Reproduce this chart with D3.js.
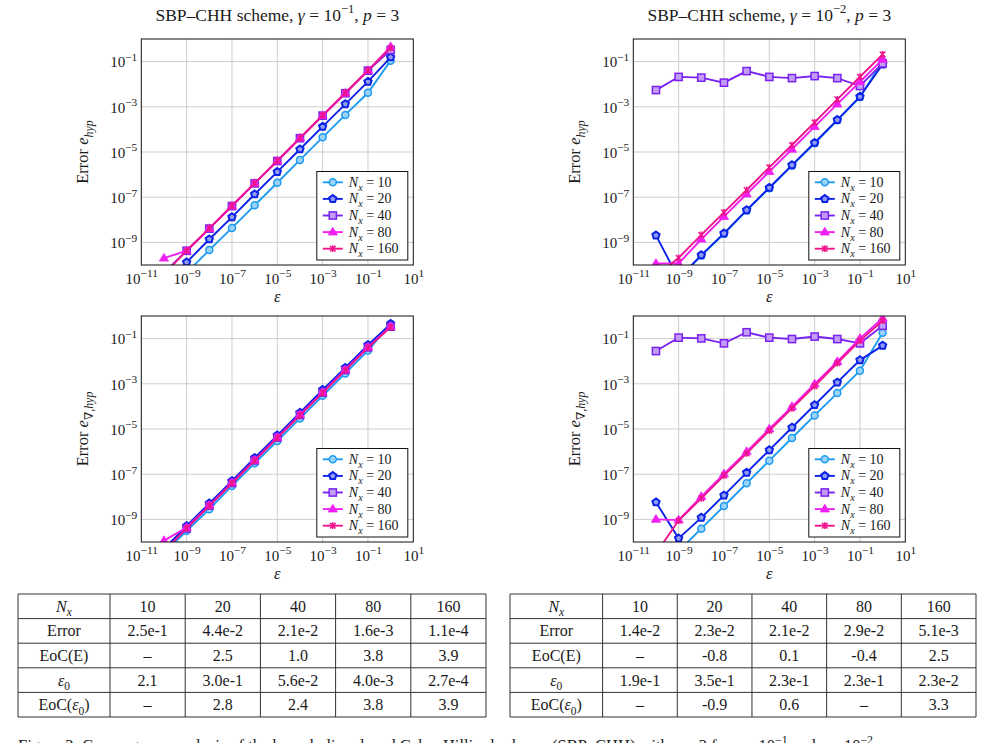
<!DOCTYPE html>
<html><head><meta charset="utf-8">
<script src="https://cdn.jsdelivr.net/npm/d3@7"></script>
<style>
body{margin:0;background:#fff}
svg{display:block}
text{font-family:"Liberation Serif","DejaVu Serif",serif;fill:#1a1a1a}
</style>
</head><body>
<svg id="c" width="984" height="743"></svg>
<script>
// ---------------- DATA ----------------
const epsilon = [1e-10,1e-9,1e-8,1e-7,1e-6,1e-5,1e-4,1e-3,1e-2,1e-1,1];
const NxLabels = ["10","20","40","80","160"];
const xTickExp = [-11,-9,-7,-5,-3,-1,1];
const yTickExp = [-9,-7,-5,-3,-1];
const gammaExp = ["−1","−2"];

// e_hyp, gamma = 1e-1
const hypG1_Nx10  = [5.0e-12,4.57e-11,4.57e-10,4.37e-9,4.37e-8,4.37e-7,4.47e-6,4.47e-5,4.37e-4,4.17e-3,1.10e-1];
const hypG1_Nx20  = [1.26e-11,1.32e-10,1.38e-9,1.32e-8,1.35e-7,1.32e-6,1.32e-5,1.32e-4,1.32e-3,1.29e-2,1.55e-1];
const hypG1_Nx40  = [4.47e-11,4.27e-10,4.07e-9,4.07e-8,4.07e-7,3.98e-6,4.07e-5,4.07e-4,3.98e-3,3.98e-2,3.24e-1];
const hypG1_Nx80  = [2.0e-10,4.27e-10,4.07e-9,4.07e-8,4.07e-7,3.98e-6,4.07e-5,4.07e-4,3.98e-3,3.98e-2,4.57e-1];
const hypG1_Nx160 = [3.98e-11,4.27e-10,4.17e-9,4.17e-8,4.17e-7,4.07e-6,4.17e-5,4.17e-4,4.07e-3,4.07e-2,3.98e-1];
// e_hyp, gamma = 1e-2
const hypG2_Nx10  = [1.0e-11,2.40e-11,2.63e-10,2.40e-9,2.57e-8,2.51e-7,2.51e-6,2.45e-5,2.51e-4,2.69e-3,1.07e-1];
const hypG2_Nx20  = [2.04e-9,2.51e-11,2.75e-10,2.51e-9,2.69e-8,2.63e-7,2.63e-6,2.57e-5,2.63e-4,2.82e-3,7.59e-2];
const hypG2_Nx40  = [5.5e-3,2.1e-2,1.95e-2,1.17e-2,3.8e-2,2.1e-2,1.86e-2,2.29e-2,1.86e-2,8.3e-3,8.3e-2];
const hypG2_Nx80  = [1.17e-10,1.17e-10,1.38e-9,1.38e-8,1.38e-7,1.35e-6,1.32e-5,1.32e-4,1.32e-3,1.29e-2,1.26e-1];
const hypG2_Nx160 = [3.16e-11,2.09e-10,2.14e-9,2.14e-8,2.09e-7,2.09e-6,2.04e-5,2.04e-4,2.14e-3,2.14e-2,2.09e-1];
// e_grad, gamma = 1e-1
const gradG1_Nx10  = [3.16e-11,3.16e-10,2.82e-9,3.02e-8,3.02e-7,2.95e-6,2.95e-5,2.95e-4,2.88e-3,2.95e-2,4.47e-1];
const gradG1_Nx20  = [5.01e-11,5.13e-10,5.13e-9,5.01e-8,5.25e-7,5.25e-6,5.25e-5,5.37e-4,5.13e-3,5.25e-2,4.47e-1];
const gradG1_Nx40  = [3.98e-11,3.98e-10,4.07e-9,4.07e-8,4.07e-7,4.17e-6,4.17e-5,4.07e-4,4.07e-3,4.07e-2,3.39e-1];
const gradG1_Nx80  = [1.15e-10,4.37e-10,4.17e-9,4.17e-8,4.17e-7,4.27e-6,4.27e-5,4.17e-4,4.17e-3,4.17e-2,3.39e-1];
const gradG1_Nx160 = [3.98e-11,3.98e-10,3.98e-9,3.98e-8,3.98e-7,3.98e-6,3.98e-5,3.98e-4,3.98e-3,3.98e-2,3.24e-1];
// e_grad, gamma = 1e-2
const gradG2_Nx10  = [3.98e-12,3.98e-11,3.89e-10,3.89e-9,3.98e-8,3.98e-7,3.98e-6,3.98e-5,3.89e-4,3.80e-3,1.82e-1];
const gradG2_Nx20  = [5.75e-9,1.45e-10,1.20e-9,1.15e-8,1.17e-7,1.17e-6,1.17e-5,1.15e-4,1.15e-3,1.12e-2,4.90e-2];
const gradG2_Nx40  = [2.82e-2,1.10e-1,1.02e-1,6.17e-2,1.91e-1,1.10e-1,9.55e-2,1.23e-1,9.55e-2,6.17e-2,3.72e-1];
const gradG2_Nx80  = [1.0e-9,9.33e-10,1.02e-8,1.02e-7,1.0e-6,1.0e-5,9.77e-5,9.77e-4,9.55e-3,1.02e-1,7.94e-1];
const gradG2_Nx160 = [3.16e-11,8.91e-10,8.51e-9,8.71e-8,8.32e-7,8.51e-6,8.13e-5,7.94e-4,8.13e-3,8.13e-2,6.17e-1];

// tables
const tableRowLabels = ["Nx","Error","EoC(E)","eps0","EoC(eps0)"];
const tableLeftError = ["2.5e-1","4.4e-2","2.1e-2","1.6e-3","1.1e-4"];
const tableLeftEoCE  = ["–","2.5","1.0","3.8","3.9"];
const tableLeftEps0  = ["2.1","3.0e-1","5.6e-2","4.0e-3","2.7e-4"];
const tableLeftEoCEps= ["–","2.8","2.4","3.8","3.9"];
const tableRightError = ["1.4e-2","2.3e-2","2.1e-2","2.9e-2","5.1e-3"];
const tableRightEoCE  = ["–","-0.8","0.1","-0.4","2.5"];
const tableRightEps0  = ["1.9e-1","3.5e-1","2.3e-1","2.3e-1","2.3e-2"];
const tableRightEoCEps= ["–","-0.9","0.6","–","3.3"];

// ---------------- STYLE ----------------
const colors = ["#1e9cf0","#0c22e6","#7a22ee","#f01ef0","#f0148c"];
const markers = ["circle","pentagon","square","triangle","x"];
const TICK_FS = 15, TITLE_FS = 17.5, LEG_FS = 14, LAB_FS = 16.5, TAB_FS = 16;

const svg = d3.select("#c");

function rich(t, parts, fs, scale){
  const sc = scale || 0.72;
  let shift = 0;
  parts.forEach(p=>{
    const ts = t.append("tspan").text(p.t);
    const target = p.sub ? fs*0.28 : (p.sup ? -fs*0.42 : 0);
    if (target - shift !== 0) ts.attr("dy", target - shift);
    shift = target;
    if (p.sub || p.sup) ts.attr("font-size", fs*sc);
    if (p.it) ts.attr("font-style","italic");
  });
  return t;
}
function tickParts(e){ return [{t:"10"},{t:(e<0?"−":"")+Math.abs(e),sup:true}]; }

function lighten(c){ return d3.interpolateRgb(c,"#ffffff")(0.55); }

function drawMarker(g, type, color, cx, cy){
  if (type==="circle"){
    g.append("circle").attr("cx",cx).attr("cy",cy).attr("r",3.5)
      .attr("fill",lighten(color)).attr("stroke",color).attr("stroke-width",1.5);
  } else if (type==="pentagon"){
    const r=3.8, pts=d3.range(5).map(i=>{const a=-Math.PI/2+i*2*Math.PI/5;return [cx+r*Math.cos(a),cy+r*Math.sin(a)];});
    g.append("path").attr("d","M"+pts.join("L")+"Z").attr("fill",lighten(color)).attr("stroke",color).attr("stroke-width",2);
  } else if (type==="square"){
    g.append("rect").attr("x",cx-3.6).attr("y",cy-3.6).attr("width",7.2).attr("height",7.2)
      .attr("fill",lighten(color)).attr("stroke",color).attr("stroke-width",1.5);
  } else if (type==="triangle"){
    const s=4.8;
    g.append("path").attr("d",`M${cx},${cy-s}L${cx+s*0.95},${cy+s*0.6}L${cx-s*0.95},${cy+s*0.6}Z`).attr("fill",color).attr("stroke",color).attr("stroke-width",0.8);
  } else {
    const s=2.8;
    g.append("path").attr("d",`M${cx-s},${cy-s}L${cx+s},${cy+s}M${cx-s},${cy+s}L${cx+s},${cy-s}M${cx},${cy-s*1.2}L${cx},${cy+s*1.2}`)
      .attr("stroke",color).attr("stroke-width",1.5);
  }
}

const PW = 272, PH = 226;
const panels = [
  {x:141.3, y:39,  series:[hypG1_Nx10,hypG1_Nx20,hypG1_Nx40,hypG1_Nx80,hypG1_Nx160], g:0, grad:false},
  {x:633.3, y:39,  series:[hypG2_Nx10,hypG2_Nx20,hypG2_Nx40,hypG2_Nx80,hypG2_Nx160], g:1, grad:false},
  {x:141.3, y:316, series:[gradG1_Nx10,gradG1_Nx20,gradG1_Nx40,gradG1_Nx80,gradG1_Nx160], g:0, grad:true},
  {x:633.3, y:316, series:[gradG2_Nx10,gradG2_Nx20,gradG2_Nx40,gradG2_Nx80,gradG2_Nx160], g:1, grad:true}
];

panels.forEach((p,pi)=>{
  const x = d3.scaleLog().domain([1e-11,1e1]).range([p.x,p.x+PW]);
  const y = d3.scaleLog().domain([1e-10,1e0]).range([p.y+PH,p.y]);
  const g = svg.append("g");
  const cid = "clip"+pi;
  svg.append("clipPath").attr("id",cid).append("rect").attr("x",p.x).attr("y",p.y).attr("width",PW).attr("height",PH);

  // grid
  g.selectAll(".gx").data(xTickExp.slice(1,-1)).join("line")
    .attr("x1",d=>x(Math.pow(10,d))).attr("x2",d=>x(Math.pow(10,d)))
    .attr("y1",p.y).attr("y2",p.y+PH).attr("stroke","#cdcdcd").attr("stroke-width",1);
  g.selectAll(".gy").data(yTickExp).join("line")
    .attr("y1",d=>y(Math.pow(10,d))).attr("y2",d=>y(Math.pow(10,d)))
    .attr("x1",p.x).attr("x2",p.x+PW).attr("stroke","#cdcdcd").attr("stroke-width",1);

  // axes
  const ax = g.append("g").attr("transform",`translate(0,${p.y+PH})`)
    .call(d3.axisBottom(x).tickValues(xTickExp.map(e=>Math.pow(10,e))).tickSize(0).tickPadding(0));
  ax.select(".domain").remove();
  ax.selectAll(".tick text").each(function(d){
    const t = d3.select(this); t.text(null).attr("y",18.5).attr("dy",null)
      .attr("font-size",TICK_FS).attr("font-family","Liberation Serif").attr("fill","#1a1a1a");
    rich(t, tickParts(Math.round(Math.log10(d))), TICK_FS, 0.76);
  });
  const ay = g.append("g").attr("transform",`translate(${p.x},0)`)
    .call(d3.axisLeft(y).tickValues(yTickExp.map(e=>Math.pow(10,e))).tickSize(0).tickPadding(0));
  ay.select(".domain").remove();
  ay.selectAll(".tick text").each(function(d){
    const t = d3.select(this); t.text(null).attr("x",-4).attr("dy",null).attr("y",5.2)
      .attr("font-size",TICK_FS).attr("font-family","Liberation Serif").attr("fill","#1a1a1a");
    rich(t, tickParts(Math.round(Math.log10(d))), TICK_FS, 0.76);
  });

  // series
  const line = d3.line().x((d,i)=>x(epsilon[i])).y(d=>y(d));
  const sg = g.append("g").attr("clip-path",`url(#${cid})`);
  p.series.forEach((s,si)=>{
    sg.append("path").attr("d",line(s)).attr("fill","none").attr("stroke",colors[si]).attr("stroke-width",1.9);
    s.forEach((v,i)=>{
      if (v>=1e-10*0.95 && v<=1.05) drawMarker(sg, markers[si], colors[si], x(epsilon[i]), y(v));
    });
  });

  // box
  g.append("rect").attr("x",p.x).attr("y",p.y).attr("width",PW).attr("height",PH)
    .attr("fill","none").attr("stroke","#111").attr("stroke-width",1);

  // title
  if (!p.grad){
    const t = g.append("text").attr("x",p.x+PW/2).attr("y",20.5).attr("text-anchor","middle").attr("font-size",TITLE_FS);
    rich(t,[{t:"SBP–CHH scheme, "},{t:"γ",it:true},{t:" = 10"},{t:gammaExp[p.g],sup:true},{t:", "},{t:"p",it:true},{t:" = 3"}],TITLE_FS);
  }
  // x label
  g.append("text").attr("x",p.x+PW/2).attr("y",p.y+PH+37).attr("text-anchor","middle")
    .attr("font-size",LAB_FS).attr("font-style","italic").text("ε");
  // y label
  const ylx = p.x - 53, yly = p.y + PH/2;
  const yt = g.append("text").attr("transform",`translate(${ylx},${yly}) rotate(-90)`).attr("text-anchor","middle").attr("font-size",LAB_FS);
  rich(yt, p.grad ? [{t:"Error "},{t:"e",it:true},{t:"∇,",sub:true},{t:"hyp",sub:true,it:true}]
                  : [{t:"Error "},{t:"e",it:true},{t:"hyp",sub:true,it:true}], LAB_FS);

  // legend
  const lw = 91, lh = 88.5;
  const lx = p.x+PW-5.5-lw, ly = p.y+PH-5-lh;
  const lg = g.append("g");
  lg.append("rect").attr("x",lx).attr("y",ly).attr("width",lw).attr("height",lh)
    .attr("fill","#fff").attr("stroke","#111").attr("stroke-width",1);
  NxLabels.forEach((lab,i)=>{
    const cy = ly + 10.8 + i*16.6;
    lg.append("line").attr("x1",lx+6).attr("x2",lx+26).attr("y1",cy).attr("y2",cy)
      .attr("stroke",colors[i]).attr("stroke-width",1.9);
    drawMarker(lg, markers[i], colors[i], lx+16, cy);
    const t = lg.append("text").attr("x",lx+32).attr("y",cy+4.5).attr("font-size",LEG_FS);
    rich(t,[{t:"N",it:true},{t:"x",it:true,sub:true},{t:" = "+lab}],LEG_FS);
  });
});

// ---------------- TABLES ----------------
function drawTable(x0, x1, labelW, rowsData){
  const top = 594, bottom = 717;
  const rowY = d3.scaleBand().domain(d3.range(5)).range([top,bottom]);
  const colX = d3.scaleBand().domain(NxLabels).range([x0+labelW, x1]);
  const g = svg.append("g");
  d3.range(6).forEach(i=>{
    const yy = top + i*rowY.bandwidth();
    g.append("line").attr("x1",x0).attr("x2",x1).attr("y1",yy).attr("y2",yy).attr("stroke","#333").attr("stroke-width",1);
  });
  [x0, x0+labelW].concat(NxLabels.map(l=>colX(l)+colX.bandwidth())).forEach(xx=>{
    g.append("line").attr("x1",xx).attr("x2",xx).attr("y1",top).attr("y2",bottom).attr("stroke","#333").attr("stroke-width",1);
  });
  const fs = TAB_FS;
  const labelParts = {
    "Nx":[{t:"N",it:true},{t:"x",it:true,sub:true}],
    "Error":[{t:"Error"}],
    "EoC(E)":[{t:"EoC(E)"}],
    "eps0":[{t:"ε",it:true},{t:"0",sub:true}],
    "EoC(eps0)":[{t:"EoC("},{t:"ε",it:true},{t:"0",sub:true},{t:")"}]
  };
  tableRowLabels.forEach((lab,r)=>{
    const cy = rowY(r)+rowY.bandwidth()/2 + 5.5;
    const t = g.append("text").attr("x",x0+labelW/2).attr("y",cy).attr("text-anchor","middle").attr("font-size",fs);
    rich(t,labelParts[lab],fs);
    const vals = r===0 ? NxLabels : rowsData[r-1];
    vals.forEach((v,c)=>{
      g.append("text").attr("x",colX(NxLabels[c])+colX.bandwidth()/2).attr("y",cy)
        .attr("text-anchor","middle").attr("font-size",fs).text(v);
    });
  });
}
drawTable(18, 486, 92, [tableLeftError,tableLeftEoCE,tableLeftEps0,tableLeftEoCEps]);
drawTable(510, 976, 92.6, [tableRightError,tableRightEoCE,tableRightEps0,tableRightEoCEps]);

// caption (cut off at the bottom edge, as in the source)
const cap = svg.append("text").attr("x",18).attr("y",751).attr("font-size",16.5);
rich(cap,[{t:"Figure 3: Convergence analysis of the hyperbolic relaxed Cahn–Hilliard scheme (SBP–CHH) with "},{t:"p",it:true},{t:" = 3 for "},{t:"γ",it:true},{t:" = 10"},{t:"−1",sup:true},{t:" and "},{t:"γ",it:true},{t:" = 10"},{t:"−2",sup:true}],16.5);
</script>
</body></html>
